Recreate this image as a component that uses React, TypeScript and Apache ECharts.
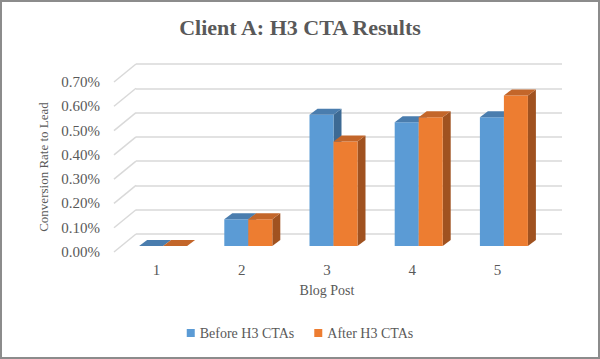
import React, { useEffect, useRef } from "react";
import * as echarts from "echarts";

const categories = ["1", "2", "3", "4", "5"];
const beforeValues = [0.0, 0.11, 0.54, 0.51, 0.53];
const afterValues = [0.0, 0.11, 0.43, 0.53, 0.62];
const yTicks = [0, 0.1, 0.2, 0.3, 0.4, 0.5, 0.6, 0.7];

const FONT = "'Liberation Serif', serif";
const TEXT = "#595959";

const BAR_W = 24;
const SHIFT_X = 6.5; // front face of bars relative to axis plane
const SHIFT_Y = -6;
const DEPTH_X = 8;
const DEPTH_Y = -6;
const WALL_X = 22;
const WALL_Y = -18;

function makeBarRenderer(seriesIdx: number, front: string, top: string, side: string) {
  return (params: any, api: any) => {
    const cat = api.value(0);
    const val = api.value(1);
    const base = api.coord([cat, 0]);
    const topPt = api.coord([cat, val]);
    const c = base[0] + SHIFT_X;
    const x0 = seriesIdx === 0 ? c - BAR_W : c;
    const x1 = x0 + BAR_W;
    const yb = base[1] + SHIFT_Y;
    const yt = topPt[1] + SHIFT_Y;
    return {
      type: "group",
      children: [
        {
          type: "polygon",
          shape: { points: [[x1, yb], [x1 + DEPTH_X, yb + DEPTH_Y], [x1 + DEPTH_X, yt + DEPTH_Y], [x1, yt]] },
          style: { fill: side },
        },
        {
          type: "rect",
          shape: { x: x0, y: yt, width: BAR_W, height: yb - yt },
          style: { fill: front },
        },
        {
          type: "polygon",
          shape: { points: [[x0, yt], [x1, yt], [x1 + DEPTH_X, yt + DEPTH_Y], [x0 + DEPTH_X, yt + DEPTH_Y]] },
          style: { fill: top },
        },
      ],
    };
  };
}

export default function App() {
  const ref = useRef<HTMLDivElement>(null);
  useEffect(() => {
    if (!ref.current) return;
    const chart = echarts.init(ref.current, undefined, { renderer: "svg" });
    const option: any = {
      animation: false,
      backgroundColor: "#ffffff",
      title: {
        text: "Client A: H3 CTA Results",
        left: "center",
        top: 11,
        textStyle: { fontFamily: FONT, fontSize: 22, fontWeight: "bold", color: TEXT },
      },
      graphic: [
        {
          type: "rect",
          shape: { x: 1, y: 1, width: 598, height: 357 },
          style: { fill: "none", stroke: "#8c8c8c", lineWidth: 2 },
          z: 100,
        },
      ],
      legend: {
        bottom: 14,
        left: "center",
        itemWidth: 8,
        itemHeight: 8,
        itemGap: 20,
        icon: "rect",
        textStyle: { fontFamily: FONT, fontSize: 14, color: TEXT },
        data: ["Before H3 CTAs", "After H3 CTAs"],
      },
      grid: [
        { left: 114, right: 60, top: 82, bottom: 107 },
        { left: 114 + WALL_X, right: 60 - WALL_X, top: 82 + WALL_Y, bottom: 107 - WALL_Y },
      ],
      xAxis: [
        {
          type: "category",
          gridIndex: 0,
          data: categories,
          axisLine: { show: false },
          axisTick: { show: false },
          axisLabel: { fontFamily: FONT, fontSize: 15, color: TEXT, margin: 10 },
          name: "Blog Post",
          nameLocation: "middle",
          nameGap: 31,
          nameTextStyle: { fontFamily: FONT, fontSize: 14, color: TEXT },
        },
        {
          type: "category",
          gridIndex: 1,
          data: categories,
          show: false,
        },
      ],
      yAxis: [
        {
          type: "value",
          gridIndex: 0,
          min: 0,
          max: 0.7,
          interval: 0.1,
          axisLine: { show: false },
          axisTick: { show: false },
          splitLine: { show: false },
          axisLabel: {
            fontFamily: FONT,
            fontSize: 15,
            color: TEXT,
            margin: 14,
            formatter: (v: number) => v.toFixed(2) + "%",
          },
          name: "Conversion Rate to Lead",
          nameLocation: "middle",
          nameGap: 59,
          nameRotate: 90,
          nameTextStyle: { fontFamily: FONT, fontSize: 13, color: TEXT },
        },
        {
          type: "value",
          gridIndex: 1,
          min: 0,
          max: 0.7,
          interval: 0.1,
          axisLine: { show: false },
          axisTick: { show: false },
          axisLabel: { show: false },
          splitLine: { show: true, lineStyle: { color: "#d9d9d9", width: 1.5 } },
        },
      ],
      series: [
        {
          type: "custom",
          name: "gridDiagonals",
          xAxisIndex: 0,
          yAxisIndex: 0,
          silent: true,
          data: yTicks.map((v) => [0, v]),
          renderItem: (params: any, api: any) => {
            const y = api.coord([0, api.value(1)])[1];
            const x = params.coordSys.x;
            return {
              type: "line",
              shape: { x1: x, y1: y, x2: x + WALL_X, y2: y + WALL_Y },
              style: { stroke: "#d9d9d9", lineWidth: 1.5 },
            };
          },
          z: 1,
        },
        {
          type: "custom",
          name: "Before H3 CTAs",
          xAxisIndex: 0,
          yAxisIndex: 0,
          itemStyle: { color: "#5B9BD5" },
          data: beforeValues.map((v, i) => [i, v]),
          renderItem: makeBarRenderer(0, "#5B9BD5", "#4A7DAE", "#3D6A94"),
          z: 2,
        },
        {
          type: "custom",
          name: "After H3 CTAs",
          xAxisIndex: 0,
          yAxisIndex: 0,
          itemStyle: { color: "#ED7D31" },
          data: afterValues.map((v, i) => [i, v]),
          renderItem: makeBarRenderer(1, "#ED7D31", "#C3662A", "#A05220"),
          z: 3,
        },
      ],
    };
    chart.setOption(option);
    return () => chart.dispose();
  }, []);
  return (
    <div
      ref={ref}
      style={{ position: "absolute", left: 0, top: 0, width: 600, height: 359 }}
    />
  );
}
